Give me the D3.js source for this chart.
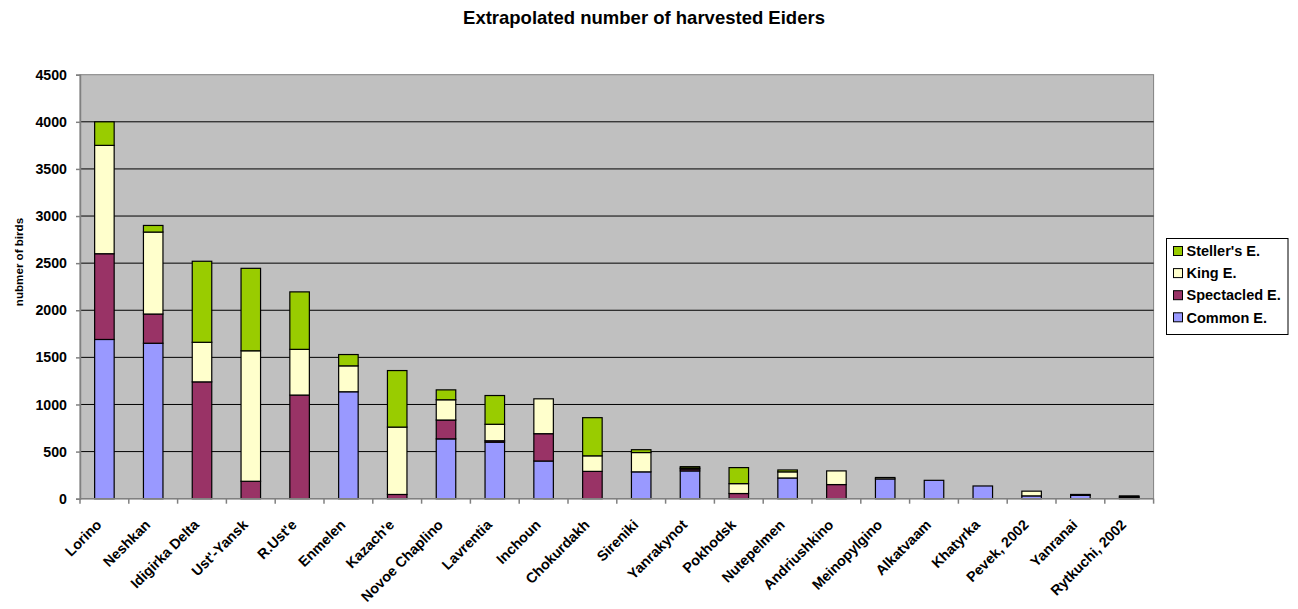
<!DOCTYPE html>
<html>
<head>
<meta charset="utf-8">
<script src="https://cdn.jsdelivr.net/npm/d3@7"></script>
<style>
  html, body { margin: 0; padding: 0; background: #ffffff; }
  svg { display: block; font-family: "Liberation Sans", Arial, sans-serif; }
</style>
</head>
<body>
<svg id="chart" width="1298" height="609"></svg>
<script>
// Settlements, in plotted order
const sites = ["Lorino", "Neshkan", "Idigirka Delta", "Ust'-Yansk", "R.Ust'e", "Enmelen",
  "Kazach'e", "Novoe Chaplino", "Lavrentia", "Inchoun", "Chokurdakh", "Sireniki",
  "Yanrakynot", "Pokhodsk", "Nutepelmen", "Andriushkino", "Meinopylgino", "Alkatvaam",
  "Khatyrka", "Pevek, 2002", "Yanranai", "Rytkuchi, 2002"];

// Extrapolated harvest per species (birds)
const commonE     = [1690, 1650,    0,    0,    0, 1135,   0, 635, 600, 400,   0, 285, 295,   0, 220,   0, 210, 195, 135, 30, 35, 15];
const spectacledE = [ 910,  310, 1240,  185, 1100,    0,  45, 200,  15, 290, 290,   0,  20,  55,   0, 150,   0,   0,   0,  0,  5,  5];
const kingE       = [1150,  870,  420, 1385,  485,  275, 715, 215, 175, 370, 165, 205,  10, 105,  65, 145,  15,   0,   0, 50,  5, 10];
const stellersE   = [ 250,   70,  860,  875,  610,  120, 600, 105, 305,   0, 405,  30,  15, 170,  20,   0,   0,   0,   0,  0,  0,  0];

const yTicks = [0, 500, 1000, 1500, 2000, 2500, 3000, 3500, 4000, 4500];

const seriesDefs = [
  { key: "common",     name: "Common E.",     values: commonE,     color: "#9999FF" },
  { key: "spectacled", name: "Spectacled E.", values: spectacledE, color: "#993366" },
  { key: "king",       name: "King E.",       values: kingE,       color: "#FFFFCC" },
  { key: "stellers",   name: "Steller's E.",  values: stellersE,   color: "#99CC00" }
];

const table = sites.map((s, i) => {
  const row = { site: s };
  seriesDefs.forEach(d => { row[d.key] = d.values[i]; });
  return row;
});

const svg = d3.select("#chart");
const plot = { left: 80, right: 1153.6, top: 74.7, bottom: 498.7 };

const x = d3.scaleBand().domain(sites).range([plot.left, plot.right]).paddingInner(0).paddingOuter(0);
const y = d3.scaleLinear().domain([0, 4500]).range([plot.bottom, plot.top]);

// Plot background
svg.append("rect")
  .attr("x", plot.left).attr("y", plot.top)
  .attr("width", plot.right - plot.left).attr("height", plot.bottom - plot.top)
  .attr("fill", "#C0C0C0").attr("stroke", "#808080").attr("stroke-width", 1);

// Horizontal gridlines
svg.append("g").selectAll("line")
  .data(yTicks.filter(t => t > 0 && t < 4500))
  .join("line")
  .attr("x1", plot.left).attr("x2", plot.right)
  .attr("y1", d => y(d)).attr("y2", d => y(d))
  .attr("stroke", "#000").attr("stroke-width", 1);

// Stacked bars
const stack = d3.stack().keys(seriesDefs.map(d => d.key));
const layers = stack(table);
const barW = x.bandwidth() * 0.4;

svg.append("g").selectAll("g")
  .data(layers)
  .join("g")
  .attr("fill", (d, i) => seriesDefs[i].color)
  .selectAll("rect")
  .data(d => d.filter(p => p[1] - p[0] > 0))
  .join("rect")
  .attr("x", d => x(d.data.site) + (x.bandwidth() - barW) / 2)
  .attr("width", barW)
  .attr("y", d => y(d[1]))
  .attr("height", d => y(d[0]) - y(d[1]))
  .attr("stroke", "#000").attr("stroke-width", 1.2);

// Y axis
const yAxis = d3.axisLeft(y).tickValues(yTicks).tickSize(4).tickPadding(9).tickFormat(d3.format("d"));
const gy = svg.append("g").attr("transform", `translate(${plot.left},0)`).call(yAxis);
gy.select(".domain").attr("stroke", "#808080").attr("stroke-width", 1.5);
gy.selectAll(".tick line").attr("stroke", "#808080").attr("stroke-width", 1.5);
gy.selectAll(".tick text").attr("font-size", "14.2px").attr("font-weight", "bold").attr("fill", "#000")
  .attr("font-family", "Liberation Sans, Arial, sans-serif");

// X axis: baseline with ticks between categories
const gx = svg.append("g");
gx.append("line")
  .attr("x1", plot.left).attr("x2", plot.right)
  .attr("y1", plot.bottom).attr("y2", plot.bottom)
  .attr("stroke", "#808080").attr("stroke-width", 1.5);
gx.selectAll("line.tk")
  .data(d3.range(sites.length + 1))
  .join("line").attr("class", "tk")
  .attr("x1", i => plot.left + i * x.step()).attr("x2", i => plot.left + i * x.step())
  .attr("y1", plot.bottom).attr("y2", plot.bottom + 5)
  .attr("stroke", "#808080").attr("stroke-width", 1.5);
gx.selectAll("text")
  .data(sites)
  .join("text")
  .attr("transform", d => `translate(${x(d) + x.bandwidth() / 2 - 2},${plot.bottom + 27}) rotate(-45)`)
  .attr("text-anchor", "end")
  .attr("font-size", "14.3px").attr("font-weight", "bold").attr("fill", "#000")
  .text(d => d);

// Title
svg.append("text")
  .attr("x", 644).attr("y", 24)
  .attr("text-anchor", "middle")
  .attr("font-size", "18.5px").attr("font-weight", "bold")
  .text("Extrapolated number of harvested Eiders");

// Y axis title
svg.append("text")
  .attr("transform", "translate(23,262) rotate(-90)")
  .attr("text-anchor", "middle")
  .attr("font-size", "11.6px").attr("font-weight", "bold")
  .text("nubmer of birds");

// Legend (top-most series listed first)
const legend = svg.append("g");
legend.append("rect")
  .attr("x", 1166.5).attr("y", 238.5).attr("width", 121.5).attr("height", 96)
  .attr("fill", "#fff").attr("stroke", "#000").attr("stroke-width", 1);
const legendItems = seriesDefs.slice().reverse();
const li = legend.selectAll("g.item").data(legendItems).join("g").attr("class", "item")
  .attr("transform", (d, i) => `translate(1173.5,${251 + i * 22.1})`);
li.append("rect")
  .attr("x", 0).attr("y", -4.5).attr("width", 9).attr("height", 9)
  .attr("fill", d => d.color).attr("stroke", "#000").attr("stroke-width", 1);
li.append("text")
  .attr("x", 13).attr("y", 5.2)
  .attr("font-size", "14.5px").attr("font-weight", "bold")
  .text(d => d.name);
</script>
</body>
</html>
